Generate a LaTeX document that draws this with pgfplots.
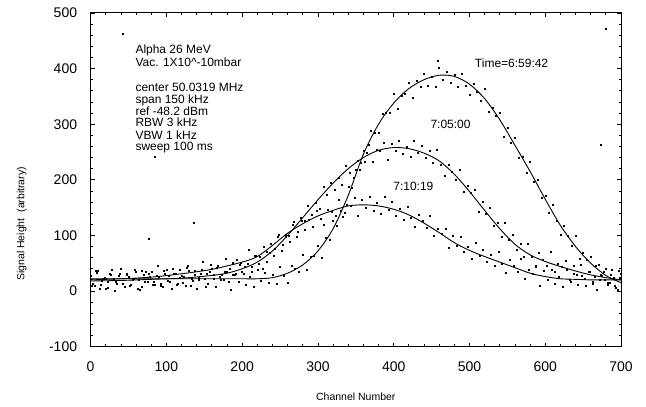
\documentclass[border=0pt]{standalone}
\usepackage{fontspec}
\setmainfont{Liberation Sans}
\usepackage{pgfplots}
\pgfplotsset{compat=1.18}

\begin{document}
\begin{tikzpicture}
\begin{axis}[
  width=531pt, height=334pt, scale only axis,
  xmin=0, xmax=700, ymin=-100, ymax=500,
  xtick distance=100, ytick distance=100,
  minor tick num=4,
  tick align=inside,
  xtick pos=both, ytick pos=both,
  major tick length=4pt, minor tick length=2.2pt,
  axis line style={line width=1pt},
  tick style={black, line width=0.8pt},
  /pgf/number format/assume math mode=true,
  ticklabel style={font=\fontsize{14}{14}\selectfont},
  xticklabel style={yshift=-12pt},
  yticklabel style={xshift=-10pt},
  xlabel={Channel Number},
  ylabel={Signal Height\ \ (arbitrary)},
  xlabel style={font=\fontsize{10.5}{12}\selectfont, at={(axis description cs:0.5,0)}, anchor=center, yshift=-50pt},
  ylabel style={font=\fontsize{10.5}{12}\selectfont, at={(axis description cs:-0.13,0.368)}, anchor=center},
]
% noisy channel data, 6:59:42
\addplot[only marks, mark=square*, mark size=0.5pt, black] coordinates {
(0,28)(5,10)(10,37)(15,19)(20,5)(25,31)(30,23)(35,14)(40,41)(45,8)
(50,26)(55,21)(60,34)(65,3)(70,30)(75,16)(80,35)(85,12)(90,25)(95,7)
(100,39)(105,17)(110,32)(115,13)(120,28)(125,10)(130,37)(135,19)(140,5)(145,31)
(150,23)(155,14)(160,41)(165,8)(170,26)(175,21)(180,34)(185,3)(190,30)(195,16)
(200,35)(205,12)(210,25)(215,7)(220,39)(225,18)(230,33)(235,15)(240,30)(245,14)
(250,43)(255,27)(260,15)(265,45)(270,40)(275,35)(280,65)(285,38)(290,62)(295,63)
(300,82)(305,60)(310,96)(315,92)(320,126)(325,117)(330,145)(335,141)(340,188)(345,185)
(350,218)(355,218)(360,252)(365,248)(370,289)(375,284)(380,284)(385,319)(390,320)(395,320)
(400,354)(405,328)(410,352)(415,354)(420,374)(425,347)(430,378)(435,368)(440,391)(445,370)
(450,385)(455,368)(460,402)(465,380)(470,394)(475,375)(480,389)(485,368)(490,391)(495,370)
(500,353)(505,373)(510,358)(515,343)(520,364)(525,322)(530,330)(535,316)(540,320)(545,277)
(550,293)(555,267)(560,275)(565,240)(570,241)(575,212)(580,232)(585,197)(590,200)(595,168)
(600,171)(605,141)(610,156)(615,127)(620,101)(625,117)(630,100)(635,81)(640,99)(645,58)
(650,69)(655,56)(660,62)(665,25)(670,47)(675,27)(680,41)(685,15)(690,24)(695,3)(700,32)
};
% noisy channel data, 7:05:00
\addplot[only marks, mark=square*, mark size=0.5pt, black] coordinates {
(2,10)(7,37)(12,4)(17,22)(22,17)(27,30)(32,0)(37,27)(42,13)(47,32)
(52,10)(57,23)(62,5)(67,37)(72,16)(77,31)(82,12)(87,27)(92,10)(97,37)
(102,19)(107,5)(112,32)(117,24)(122,15)(127,42)(132,10)(137,29)(142,24)(147,38)
(152,8)(157,35)(162,22)(167,42)(172,20)(177,34)(182,17)(187,51)(192,31)(197,48)
(202,31)(207,49)(212,34)(217,64)(222,49)(227,40)(232,71)(237,68)(242,64)(247,98)
(252,72)(257,97)(262,99)(267,120)(272,97)(277,132)(282,126)(287,153)(292,138)(297,158)
(302,148)(307,187)(312,173)(317,195)(322,183)(327,204)(332,192)(337,225)(342,213)(347,204)
(352,235)(357,231)(362,233)(367,263)(372,233)(377,254)(382,252)(387,266)(392,237)(397,265)
(402,252)(407,271)(412,247)(417,260)(422,241)(427,271)(432,248)(437,261)(442,240)(447,252)
(452,231)(457,254)(462,227)(467,207)(472,228)(477,214)(482,200)(487,219)(492,179)(497,189)
(502,177)(507,182)(512,143)(517,161)(522,139)(527,150)(532,118)(537,123)(542,97)(547,122)
(552,93)(557,101)(562,75)(567,85)(572,62)(577,85)(582,62)(587,45)(592,68)(597,57)
(602,45)(607,70)(612,34)(617,50)(622,43)(627,54)(632,21)(637,46)(642,30)(647,47)
(652,22)(657,34)(662,14)(667,45)(672,21)(677,35)(682,15)(687,29)(692,10)(697,36)
};
% noisy channel data, 7:10:19
\addplot[only marks, mark=square*, mark size=0.5pt, black] coordinates {
(3,14)(8,33)(13,11)(18,24)(23,6)(28,38)(33,17)(38,32)(43,13)(48,29)
(53,11)(58,39)(63,21)(68,7)(73,34)(78,26)(83,17)(88,45)(93,13)(98,31)
(103,27)(108,41)(113,11)(118,38)(123,25)(128,45)(133,23)(138,37)(143,20)(148,53)
(153,32)(158,48)(163,30)(168,46)(173,30)(178,58)(183,41)(188,29)(193,57)(198,51)
(203,44)(208,74)(213,43)(218,64)(223,61)(228,79)(233,53)(238,85)(243,76)(248,101)
(253,83)(258,102)(263,89)(268,125)(273,107)(278,126)(283,111)(288,129)(293,115)(298,145)
(303,130)(308,119)(313,147)(318,142)(323,135)(328,164)(333,133)(338,156)(343,153)(348,167)
(353,136)(358,164)(363,150)(368,169)(373,145)(378,158)(383,139)(388,170)(393,146)(398,160)
(403,135)(408,148)(413,128)(418,152)(423,132)(428,115)(433,137)(438,126)(443,113)(448,136)
(453,99)(458,112)(463,103)(468,112)(473,77)(478,99)(483,81)(488,97)(493,70)(498,80)
(503,58)(508,87)(513,63)(518,75)(523,53)(528,66)(533,45)(538,70)(543,49)(548,33)
(553,56)(558,46)(563,34)(568,59)(573,23)(578,39)(583,31)(588,43)(593,10)(598,36)
(603,20)(608,38)(613,14)(618,26)(623,7)(628,39)(633,17)(638,31)(643,12)(648,27)
(653,9)(658,35)(663,17)(668,3)(673,29)(678,21)(683,12)(688,39)(693,6)(698,24)
};
% stray points
\addplot[only marks, mark=square*, mark size=0.5pt, black] coordinates {
(42,463)(84,241)(136,122)(77,94)(673,264)(680,471)(458,415)
};
% fitted curves
\addplot[smooth, black, line width=0.9pt] coordinates {
(0,22)(40,22)(80,22)(120,22)(160,22)(200,22)(220,22)(240,24)(260,32)(280,47)
(300,72)(320,112)(340,172)(360,246)(380,300)(400,338)(420,364)(440,380)(460,388)(480,386)
(500,372)(520,346)(540,308)(560,262)(580,215)(600,165)(620,118)(640,80)(660,50)(680,28)(700,15)
};
\addplot[smooth, black, line width=0.9pt] coordinates {
(0,18)(40,19)(80,21)(120,23)(160,28)(180,32)(200,40)(220,52)(240,72)(260,100)(280,132)
(300,164)(320,194)(340,220)(360,240)(380,253)(400,258)(420,256)(440,248)(460,234)(480,210)
(500,179)(520,145)(540,112)(560,84)(580,65)(600,53)(620,44)(640,36)(660,29)(680,24)(700,20)
};
\addplot[smooth, black, line width=0.9pt] coordinates {
(0,20)(40,22)(80,25)(120,31)(160,39)(200,52)(220,62)(240,82)(260,104)(280,121)
(300,135)(320,145)(340,153)(360,155)(380,153)(400,147)(420,137)(440,122)(460,105)(480,87)
(500,73)(520,62)(540,52)(560,42)(580,32)(600,26)(620,22)(640,21)(660,20)(680,20)(700,20)
};
\begin{scope}[every node/.style={anchor=base west, inner sep=0pt, font=\fontsize{12}{12}\selectfont}]
\node at (axis cs:59,428) {Alpha 26 MeV};
\node at (axis cs:59,403) {Vac. 1X10\textasciicircum{}-10mbar};
\node at (axis cs:59,359) {center 50.0319 MHz};
\node at (axis cs:59,337) {span 150 kHz};
\node at (axis cs:59,316) {ref -48.2 dBm};
\node at (axis cs:59,295) {RBW 3 kHz};
\node at (axis cs:59,273) {VBW 1 kHz};
\node at (axis cs:59,252) {sweep 100 ms};
\end{scope}
\node[anchor=west, inner sep=0pt, font=\fontsize{12}{12}\selectfont] at (axis cs:507,410) {Time=6:59:42};
\node[inner sep=0pt, font=\fontsize{12}{12}\selectfont] at (axis cs:475,299) {7:05:00};
\node[inner sep=0pt, font=\fontsize{12}{12}\selectfont] at (axis cs:426,189) {7:10:19};
\end{axis}
\pgfresetboundingbox
\path ([xshift=-90.7pt,yshift=-60pt]current axis.south west) rectangle ([xshift=25pt,yshift=13pt]current axis.north east);
\end{tikzpicture}
\end{document}
